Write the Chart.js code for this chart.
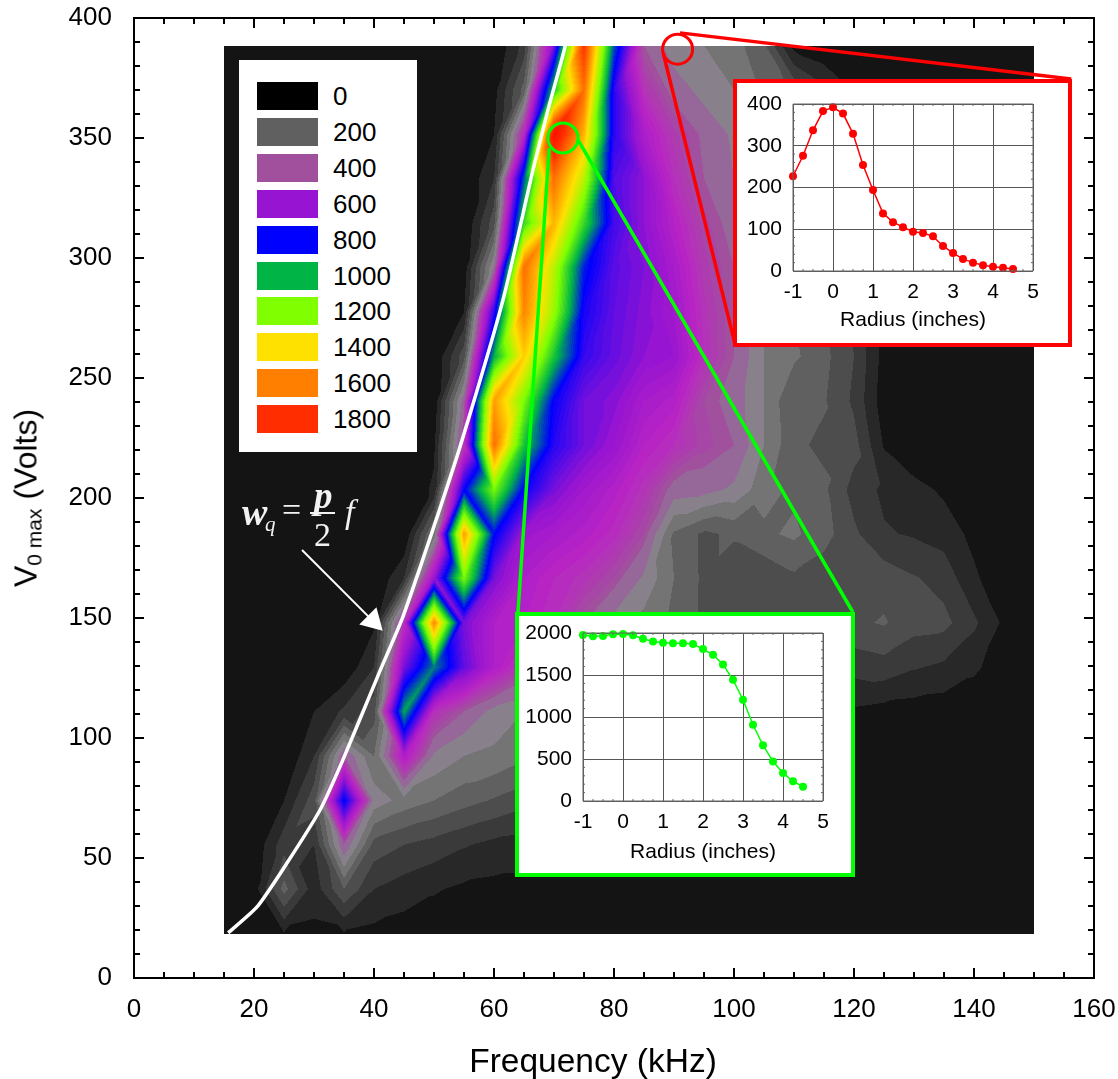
<!DOCTYPE html>
<html>
<head>
<meta charset="utf-8">
<title>V0 max vs Frequency</title>
<script src="https://cdn.jsdelivr.net/npm/chart.js@4"></script>
<style>
  html, body { margin: 0; padding: 0; background: #fff; }
  #wrap { position: relative; width: 1118px; height: 1079px; overflow: hidden; font-family: "Liberation Sans", Arial, sans-serif; color: #000; }
  #mainChart { position: absolute; left: 0; top: 0; }
  #yTitle { position: absolute; left: 26px; top: 498px; transform: translate(-50%, -50%) rotate(-90deg); white-space: nowrap; font-size: 32px; }
  #yTitle sub { font-size: 21px; vertical-align: -5px; line-height: 0; }
  #xTitle { position: absolute; left: 593px; top: 1061px; transform: translate(-50%, -50%); white-space: nowrap; font-size: 33.5px; }
  #legendBox { position: absolute; left: 239px; top: 60px; width: 178px; height: 392px; background: #fff; }
  .swatch { position: absolute; left: 18px; width: 61px; height: 28px; }
  .swatchLabel { position: absolute; left: 94px; font-size: 26px; line-height: 28px; }
  .inset { position: absolute; background: #fff; border-style: solid; border-width: 4px; }
  #equation { position: absolute; left: 242px; top: 476px; width: 130px; height: 80px; color: #f2f2f2; font-family: "Liberation Serif", serif; }
  #equation span { position: absolute; white-space: nowrap; }
</style>
</head>
<body>
<div id="wrap">
  <canvas id="mainChart" width="1118" height="1079"></canvas>
  <div id="yTitle">V<sub>0 max</sub> (Volts)</div>
  <div id="xTitle">Frequency (kHz)</div>
  <div id="legendBox"></div>
  <div id="equation">
    <span style="left:0;top:14px;font:italic bold 38px 'Liberation Serif'">w</span>
    <span style="left:23px;top:36px;font:italic 21px 'Liberation Serif'">q</span>
    <span style="left:40px;top:15px;font:34px 'Liberation Serif'">=</span>
    <span style="left:72px;top:-2px;font:italic bold 37px 'Liberation Serif'">p</span>
    <span style="left:68px;top:36px;width:25px;height:2px;background:#f2f2f2"></span>
    <span style="left:72px;top:40px;font:34px 'Liberation Serif'">2</span>
    <span style="left:103px;top:17px;font:italic 34px 'Liberation Serif'">f</span>
  </div>
  <div class="inset" id="redBox" style="left:733px;top:79px;width:331px;height:260px;border-color:#ff0000"><canvas id="redChart" width="331" height="260"></canvas></div>
  <div class="inset" id="greenBox" style="left:515px;top:612px;width:332px;height:257px;border-color:#00ff00"><canvas id="greenChart" width="332" height="257"></canvas></div>
</div>

<script>
// axes
const xTicks = [0, 20, 40, 60, 80, 100, 120, 140, 160];
const yTicks = [0, 50, 100, 150, 200, 250, 300, 350, 400];

// contour grid: one row per voltage, one value per frequency
const gridFreq = [15, 20, 25, 30, 35, 40, 45, 50, 55, 60, 65, 70, 75, 80, 85, 90, 95, 100, 105, 110, 115, 120, 125, 130, 135, 140, 145, 150];
const gridVolt = [18.5, 37, 55.5, 74, 92.5, 111, 129.5, 148, 166.5, 185, 203.5, 222, 240.5, 259, 277.5, 296, 314.5, 333, 351.5, 370, 388.5];
const row018 = [20, 30, 45, 40, 45, 35, 25, 20, 15, 15, 15, 15, 15, 15, 15, 15, 15, 15, 15, 15, 15, 15, 15, 15, 15, 15, 15, 15];
const row037 = [0, 25, 220, 70, 200, 100, 75, 55, 40, 35, 35, 35, 30, 30, 30, 30, 30, 30, 30, 30, 30, 25, 25, 20, 15, 10, 5, 0];
const row055 = [0, 10, 130, 100, 400, 180, 150, 130, 105, 85, 75, 70, 65, 60, 55, 50, 50, 45, 45, 40, 35, 30, 25, 20, 15, 10, 5, 0];
const row074 = [0, 0, 50, 180, 820, 330, 280, 250, 220, 195, 170, 150, 130, 110, 95, 85, 75, 70, 65, 60, 50, 45, 35, 25, 15, 10, 5, 0];
const row092 = [0, 0, 0, 100, 400, 250, 550, 340, 300, 290, 260, 230, 200, 170, 150, 130, 110, 100, 90, 80, 70, 50, 35, 25, 15, 10, 5, 0];
const row111 = [0, 0, 0, 50, 110, 180, 1000, 480, 400, 330, 300, 270, 240, 210, 190, 170, 150, 130, 120, 110, 80, 40, 30, 25, 20, 15, 5, 0];
const row129 = [0, 0, 0, 0, 10, 100, 650, 950, 680, 540, 460, 400, 350, 300, 270, 240, 200, 170, 160, 150, 140, 120, 130, 105, 90, 60, 20, 0];
const row148 = [0, 0, 0, 0, 0, 40, 480, 1600, 650, 540, 520, 480, 400, 330, 280, 240, 190, 150, 160, 175, 180, 190, 205, 170, 165, 110, 40, 0];
const row166 = [0, 0, 0, 0, 0, 0, 100, 600, 1200, 650, 540, 500, 470, 420, 340, 250, 190, 150, 160, 190, 170, 150, 180, 155, 130, 60, 10, 0];
const row185 = [0, 0, 0, 0, 0, 0, 0, 270, 1550, 820, 590, 560, 530, 490, 420, 240, 190, 210, 240, 260, 220, 160, 105, 95, 80, 35, 0, 0];
const row203 = [0, 0, 0, 0, 0, 0, 0, 60, 800, 1200, 800, 650, 580, 530, 470, 380, 370, 340, 270, 240, 210, 130, 90, 70, 40, 0, 0, 0];
const row222 = [0, 0, 0, 0, 0, 0, 0, 40, 450, 1650, 1050, 760, 660, 600, 520, 480, 430, 400, 300, 210, 190, 170, 45, 0, 0, 0, 0, 0];
const row240 = [0, 0, 0, 0, 0, 0, 0, 10, 380, 1550, 1200, 800, 660, 630, 560, 530, 420, 380, 300, 200, 205, 140, 20, 0, 0, 0, 0, 0];
const row259 = [0, 0, 0, 0, 0, 0, 0, 0, 180, 1000, 1450, 1050, 740, 670, 620, 600, 480, 400, 300, 260, 215, 150, 30, 0, 0, 0, 0, 0];
const row277 = [0, 0, 0, 0, 0, 0, 0, 0, 50, 750, 1600, 1250, 780, 680, 630, 580, 470, 400, 300, 250, 200, 140, 30, 0, 0, 0, 0, 0];
const row296 = [0, 0, 0, 0, 0, 0, 0, 0, 20, 350, 1650, 1300, 840, 690, 640, 560, 450, 400, 310, 250, 200, 130, 30, 0, 0, 0, 0, 0];
const row314 = [0, 0, 0, 0, 0, 0, 0, 0, 0, 180, 1100, 1500, 1100, 720, 620, 520, 430, 380, 300, 240, 190, 120, 30, 0, 0, 0, 0, 0];
const row333 = [0, 0, 0, 0, 0, 0, 0, 0, 0, 100, 900, 1650, 1300, 700, 620, 480, 400, 350, 280, 220, 170, 100, 20, 0, 0, 0, 0, 0];
const row351 = [0, 0, 0, 0, 0, 0, 0, 0, 0, 50, 500, 1950, 1500, 750, 550, 450, 390, 340, 270, 210, 150, 80, 10, 0, 0, 0, 0, 0];
const row370 = [0, 0, 0, 0, 0, 0, 0, 0, 0, 30, 220, 1050, 1650, 750, 470, 380, 330, 300, 240, 190, 120, 40, 0, 0, 0, 0, 0, 0];
const row388 = [0, 0, 0, 0, 0, 0, 0, 0, 0, 0, 120, 650, 1800, 900, 400, 320, 300, 270, 210, 30, 0, 0, 0, 0, 0, 0, 0, 0];
const gridRows = [row018, row037, row055, row074, row092, row111, row129, row148, row166, row185, row203, row222, row240, row259, row277, row296, row314, row333, row351, row370, row388];

// color scale of the contour fill
const stopValues = [0, 50, 100, 150, 200, 250, 300, 350, 400, 450, 500, 600, 800, 1000, 1200, 1400, 1600, 1800, 2000];
const stopColors = ["#141414", "#282828", "#3a3a3a", "#4d4d4d", "#606060", "#747474", "#88808a", "#96689a", "#a0509c", "#b038b4", "#b824c4", "#9614d2", "#0000ff", "#00b446", "#7fff00", "#ffe100", "#ff8000", "#ff2d00", "#ff0000"];

// legend
const legendLabels = ["0", "200", "400", "600", "800", "1000", "1200", "1400", "1600", "1800"];
const legendColors = ["#000000", "#606060", "#a0509c", "#9614d2", "#0000ff", "#00b446", "#7fff00", "#ffe100", "#ff8000", "#ff2d00"];

// white curve
const curveFreq = [15.7, 20.5, 25.5, 31, 34.8, 41, 44.8, 49.8, 54.3, 61.5, 66.5, 69, 71.8, 72.8];
const curveVolt = [18.8, 29.6, 47.9, 70, 90.8, 128, 150.4, 186.7, 221, 282.5, 336.7, 361.7, 387.5, 400];

// arrow, circles and connector lines in data units
const arrowFreq = [28, 39.8];
const arrowVolt = [178.3, 148.8];
const arrowHead = [{ x: 39.8, y: 148.8 }];
const redCircle = [{ x: 90.6, y: 387 }];
const greenCircle = [{ x: 71.5, y: 350 }];
const redLineTop = [{ x: 91, y: 393.8 }, { x: 156.2, y: 374.6 }];
const redLineLeft = [{ x: 88.2, y: 385.4 }, { x: 100.2, y: 263.8 }];
const greenLineLeft = [{ x: 69.2, y: 345.8 }, { x: 64, y: 152.5 }];
const greenLineRight = [{ x: 74, y: 349.2 }, { x: 119.8, y: 152.5 }];

// inset profiles
const radius = [-1, -0.75, -0.5, -0.25, 0, 0.25, 0.5, 0.75, 1, 1.25, 1.5, 1.75, 2, 2.25, 2.5, 2.75, 3, 3.25, 3.5, 3.75, 4, 4.25, 4.5];
const redProfile = [227, 276, 337, 383, 392, 377, 329, 254, 194, 138, 117, 105, 94, 91, 83, 60, 43, 29, 20, 14, 10, 8, 5];
const greenProfile = [1976, 1960, 1964, 1984, 1988, 1972, 1932, 1900, 1885, 1877, 1877, 1869, 1809, 1741, 1626, 1443, 1205, 907, 664, 469, 334, 235, 171];
const insetRadiusTicks = [-1, 0, 1, 2, 3, 4, 5];
const redInsetTicks = [0, 100, 200, 300, 400];
const greenInsetTicks = [0, 500, 1000, 1500, 2000];

function hexToRgb(hex) {
  return [parseInt(hex.slice(1, 3), 16), parseInt(hex.slice(3, 5), 16), parseInt(hex.slice(5, 7), 16)];
}
const stopRgb = stopColors.map(hexToRgb);

// filled contour color: wide bands in the grays, narrow ones in the rainbow
function colorForValue(v) {
  const band = v < 400 ? Math.floor(v / 50) * 50 : Math.floor(v / 20) * 20;
  let i = 0;
  while (i < stopValues.length - 2 && band >= stopValues[i + 1]) i++;
  const t = Math.min(1, (band - stopValues[i]) / (stopValues[i + 1] - stopValues[i]));
  const a = stopRgb[i], b = stopRgb[i + 1];
  return [a[0] + (b[0] - a[0]) * t, a[1] + (b[1] - a[1]) * t, a[2] + (b[2] - a[2]) * t];
}

// linear inside triangles, each cell is split on the diagonal with the smaller jump
function gridValue(f, v) {
  let i = 0, j = 0;
  while (i < gridFreq.length - 2 && f > gridFreq[i + 1]) i++;
  while (j < gridVolt.length - 2 && v > gridVolt[j + 1]) j++;
  const s = Math.max(0, Math.min(1, (f - gridFreq[i]) / (gridFreq[i + 1] - gridFreq[i])));
  const t = Math.max(0, Math.min(1, (v - gridVolt[j]) / (gridVolt[j + 1] - gridVolt[j])));
  const a = gridRows[j][i], b = gridRows[j][i + 1], c = gridRows[j + 1][i], d = gridRows[j + 1][i + 1];
  if (Math.abs(a - d) <= Math.abs(b - c)) {
    return s >= t ? a + (b - a) * s + (d - b) * t : a + (c - a) * t + (d - c) * s;
  }
  return s + t <= 1 ? a + (b - a) * s + (c - a) * t : d + (c - d) * (1 - s) + (b - d) * (1 - t);
}

const contourPlugin = {
  id: "contour",
  beforeDatasetsDraw(chart) {
    const sx = chart.scales.x, sy = chart.scales.y;
    const left = Math.round(sx.getPixelForValue(gridFreq[0]));
    const right = Math.round(sx.getPixelForValue(gridFreq[gridFreq.length - 1]));
    const top = Math.round(sy.getPixelForValue(gridVolt[gridVolt.length - 1]));
    const bottom = Math.round(sy.getPixelForValue(gridVolt[0]));
    const w = right - left, h = bottom - top;
    const off = document.createElement("canvas");
    off.width = w; off.height = h;
    const octx = off.getContext("2d");
    const img = octx.createImageData(w, h);
    for (let py = 0; py < h; py++) {
      const v = sy.getValueForPixel(top + py + 0.5);
      for (let px = 0; px < w; px++) {
        const f = sx.getValueForPixel(left + px + 0.5);
        const c = colorForValue(gridValue(f, v));
        const k = (py * w + px) * 4;
        img.data[k] = c[0]; img.data[k + 1] = c[1]; img.data[k + 2] = c[2]; img.data[k + 3] = 255;
      }
    }
    octx.putImageData(img, 0, 0);
    chart.ctx.drawImage(off, left, top);
  }
};

// frame with inward ticks on all four sides
function drawFrame(chart, majorX, majorY, minorXStep, minorYStep, opt) {
  const ctx = chart.ctx, sx = chart.scales.x, sy = chart.scales.y, a = chart.chartArea;
  ctx.save();
  ctx.strokeStyle = opt.color;
  ctx.lineWidth = opt.width;
  ctx.beginPath();
  const tick = (x1, y1, x2, y2) => { ctx.moveTo(x1, y1); ctx.lineTo(x2, y2); };
  for (let x = sx.min; x <= sx.max + 1e-6; x += minorXStep) {
    const px = sx.getPixelForValue(x);
    const len = majorX.some(m => Math.abs(m - x) < 1e-6) ? opt.major : opt.minor;
    tick(px, a.bottom, px, a.bottom - len);
    tick(px, a.top, px, a.top + len);
  }
  for (let y = sy.min; y <= sy.max + 1e-6; y += minorYStep) {
    const py = sy.getPixelForValue(y);
    const len = majorY.some(m => Math.abs(m - y) < 1e-6) ? opt.major : opt.minor;
    tick(a.left, py, a.left + len, py);
    tick(a.right, py, a.right - len, py);
  }
  ctx.rect(a.left, a.top, a.right - a.left, a.bottom - a.top);
  ctx.stroke();
  ctx.restore();
}

const mainFramePlugin = {
  id: "mainFrame",
  afterDraw(chart) {
    drawFrame(chart, xTicks, yTicks, 5, 10, { color: "#000", width: 2, major: 10, minor: 6 });
  }
};

new Chart(document.getElementById("mainChart"), {
  type: "scatter",
  data: {
    datasets: [
      { data: redCircle, pointRadius: 15, pointBorderWidth: 3, pointBorderColor: "#ff0000", pointBackgroundColor: "rgba(0,0,0,0)" },
      { data: greenCircle, pointRadius: 15, pointBorderWidth: 3, pointBorderColor: "#00ff00", pointBackgroundColor: "rgba(0,0,0,0)" },
      { data: redLineTop, showLine: true, borderColor: "#ff0000", borderWidth: 3.5, pointRadius: 0 },
      { data: redLineLeft, showLine: true, borderColor: "#ff0000", borderWidth: 3.5, pointRadius: 0 },
      { data: greenLineLeft, showLine: true, borderColor: "#00ff00", borderWidth: 3.5, pointRadius: 0 },
      { data: greenLineRight, showLine: true, borderColor: "#00ff00", borderWidth: 3.5, pointRadius: 0 },
      { data: arrowHead, pointStyle: "triangle", rotation: 135, pointRadius: 14, pointBackgroundColor: "#ffffff", pointBorderWidth: 0 },
      { data: arrowFreq.map((x, i) => ({ x: x, y: arrowVolt[i] })), showLine: true, borderColor: "#ffffff", borderWidth: 2, pointRadius: 0 },
      { data: curveFreq.map((x, i) => ({ x: x, y: curveVolt[i] })), showLine: true, borderColor: "#ffffff", borderWidth: 3.5, pointRadius: 0, tension: 0.2 }
    ]
  },
  options: {
    responsive: false,
    animation: false,
    layout: { padding: { top: 18, right: 24, left: 0, bottom: 0 } },
    plugins: { legend: { display: false }, tooltip: { enabled: false } },
    scales: {
      x: {
        type: "linear", min: 0, max: 160,
        grid: { display: false }, border: { display: false },
        afterBuildTicks: s => { s.ticks = xTicks.map(v => ({ value: v })); },
        afterFit: s => { s.height = 101; s.paddingLeft = 0; s.paddingRight = 0; },
        ticks: { padding: 8, maxRotation: 0, color: "#000", font: { family: "Liberation Sans", size: 26 } }
      },
      y: {
        type: "linear", min: 0, max: 400,
        grid: { display: false }, border: { display: false },
        afterBuildTicks: s => { s.ticks = yTicks.map(v => ({ value: v })); },
        afterFit: s => { s.width = 134; s.paddingTop = 0; s.paddingBottom = 0; },
        ticks: { padding: 14, color: "#000", font: { family: "Liberation Sans", size: 26 } }
      }
    }
  },
  plugins: [contourPlugin, mainFramePlugin]
});

// legend swatches
const legendBox = document.getElementById("legendBox");
legendLabels.forEach((label, i) => {
  const top = 22 + i * 35.9;
  const sw = document.createElement("div");
  sw.className = "swatch";
  sw.style.top = top + "px";
  sw.style.background = legendColors[i];
  legendBox.appendChild(sw);
  const tx = document.createElement("div");
  tx.className = "swatchLabel";
  tx.style.top = top + "px";
  tx.textContent = label;
  legendBox.appendChild(tx);
});

function makeInset(id, values, color, yTickList, minorY, pad) {
  const framePlugin = {
    id: "insetFrame",
    afterDraw(chart) {
      drawFrame(chart, insetRadiusTicks, yTickList, 0.25, minorY, { color: "#666", width: 1, major: 0, minor: 2 });
    }
  };
  new Chart(document.getElementById(id), {
    type: "scatter",
    data: {
      datasets: [{
        data: radius.map((r, i) => ({ x: r, y: values[i] })),
        showLine: true, clip: false, borderColor: color, borderWidth: 1.5,
        pointRadius: 4, pointBackgroundColor: color, pointBorderWidth: 0
      }]
    },
    options: {
      responsive: false,
      animation: false,
      layout: { padding: { top: pad.top, right: pad.right, left: 0, bottom: 0 } },
      plugins: { legend: { display: false }, tooltip: { enabled: false } },
      scales: {
        x: {
          type: "linear", min: -1, max: 5,
          grid: { color: "#555", lineWidth: 1, drawTicks: false }, border: { display: false },
          afterBuildTicks: s => { s.ticks = insetRadiusTicks.map(v => ({ value: v })); },
          afterFit: s => { s.height = pad.bottom; s.paddingLeft = 0; s.paddingRight = 0; },
          ticks: { padding: 9, maxRotation: 0, color: "#000", font: { family: "Liberation Sans", size: 21 } },
          title: { display: true, text: "Radius (inches)", color: "#000", font: { family: "Liberation Sans", size: 21 }, padding: { top: 0, bottom: pad.titleBottom } }
        },
        y: {
          type: "linear", min: yTickList[0], max: yTickList[yTickList.length - 1],
          grid: { color: "#555", lineWidth: 1, drawTicks: false }, border: { display: false },
          afterBuildTicks: s => { s.ticks = yTickList.map(v => ({ value: v })); },
          afterFit: s => { s.width = pad.left; s.paddingTop = 0; s.paddingBottom = 0; },
          ticks: { padding: 11, color: "#000", font: { family: "Liberation Sans", size: 21 }, callback: v => String(v) }
        }
      }
    },
    plugins: [framePlugin]
  });
}

makeInset("redChart", redProfile, "#ff0000", redInsetTicks, 20, { left: 56, right: 35, top: 21, bottom: 72, titleBottom: 10 });
makeInset("greenChart", greenProfile, "#00ff00", greenInsetTicks, 100, { left: 64, right: 28, top: 17, bottom: 72, titleBottom: 8 });
</script>
</body>
</html>
